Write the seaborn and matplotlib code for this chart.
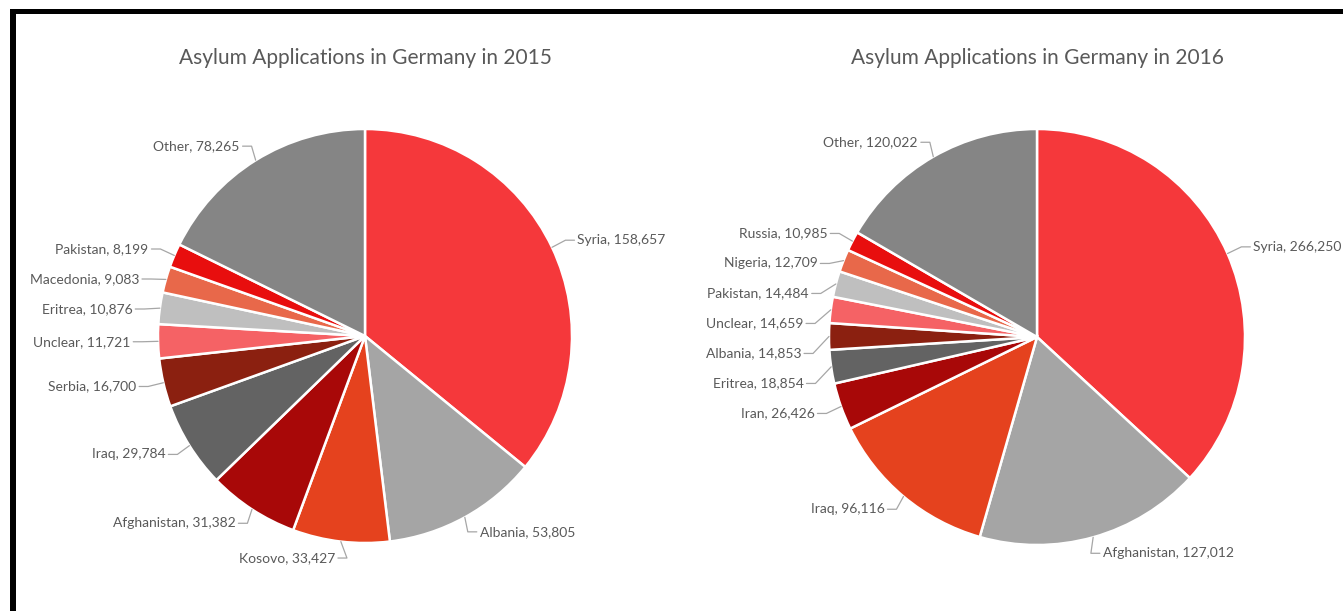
import numpy as np
import matplotlib
matplotlib.use("Agg")
import matplotlib.pyplot as plt
import seaborn as sns
from matplotlib.patches import Rectangle

# Data
countries_2015 = ["Syria", "Albania", "Kosovo", "Afghanistan", "Iraq", "Serbia",
                  "Unclear", "Eritrea", "Macedonia", "Pakistan", "Other"]
apps_2015 = [158657, 53805, 33427, 31382, 29784, 16700, 11721, 10876, 9083, 8199, 78265]

countries_2016 = ["Syria", "Afghanistan", "Iraq", "Iran", "Eritrea", "Albania",
                  "Unclear", "Pakistan", "Nigeria", "Russia", "Other"]
apps_2016 = [266250, 127012, 96116, 26426, 18854, 14853, 14659, 14484, 12709, 10985, 120022]

titles = ["Asylum Applications in Germany in 2015", "Asylum Applications in Germany in 2016"]

# Excel assigns colours by slice position, same for both charts
slice_colors = ["#F5383B", "#A5A5A5", "#E5421E", "#A80808", "#636363", "#8B2010",
                "#F56265", "#BFBFBF", "#E8684A", "#E80E0E", "#858585"]

TEXT_COLOR = "#595959"
LINE_COLOR = "#A6A6A6"
W, H = 1343, 611

sns.set_theme(style="white")
plt.rcParams["font.family"] = ["Lato", "DejaVu Sans"]


def spread(items, gap):
    # push labels on one side apart so they don't overlap (top to bottom)
    items.sort(key=lambda d: -d["y"])
    for i in range(1, len(items)):
        if items[i - 1]["y"] - items[i]["y"] < gap:
            items[i]["y"] = items[i - 1]["y"] - gap


def draw_pie(ax, names, values, center, radius, title):
    wedges, _ = ax.pie(values, colors=slice_colors, startangle=90, counterclock=False,
                       center=center, radius=radius,
                       wedgeprops=dict(edgecolor="white", linewidth=1.8))
    cx, cy = center
    left, right = [], []
    for w, name, val in zip(wedges, names, values):
        ang = np.deg2rad((w.theta1 + w.theta2) / 2)
        d = {
            "text": f"{name}, {val:,}",
            "ex": cx + radius * np.cos(ang),
            "ey": cy + radius * np.sin(ang),
            "x": cx + 1.12 * radius * np.cos(ang),
            "y": cy + 1.08 * radius * np.sin(ang),
            "side": 1 if np.cos(ang) > 0 else -1,
        }
        (right if d["side"] > 0 else left).append(d)
    spread(left, 30)
    spread(right, 30)
    for d in left + right:
        s = d["side"]
        ax.plot([d["ex"], d["x"] - s * 9, d["x"]], [d["ey"], d["y"], d["y"]],
                color=LINE_COLOR, lw=0.9, zorder=1)
        ax.text(d["x"] + s * 3, d["y"], d["text"], ha="left" if s > 0 else "right",
                va="center", fontsize=10, color=TEXT_COLOR)
    ax.text(cx, H - 58, title, ha="center", va="center", fontsize=15, color=TEXT_COLOR)


fig = plt.figure(figsize=(W / 100, H / 100), dpi=100)
ax = fig.add_axes([0, 0, 1, 1])

draw_pie(ax, countries_2015, apps_2015, (365, H - 336), 207, titles[0])
draw_pie(ax, countries_2016, apps_2016, (1037, H - 337), 208, titles[1])

# black frame (top and left edges only are visible in the screenshot)
ax.add_patch(Rectangle((10, 0), 6, H - 9, color="black", lw=0))
ax.add_patch(Rectangle((10, H - 14), W - 10, 5, color="black", lw=0))

ax.set_xlim(0, W)
ax.set_ylim(0, H)
ax.set_aspect("auto")
ax.axis("off")

fig.savefig("out.png", dpi=100, facecolor="white")
